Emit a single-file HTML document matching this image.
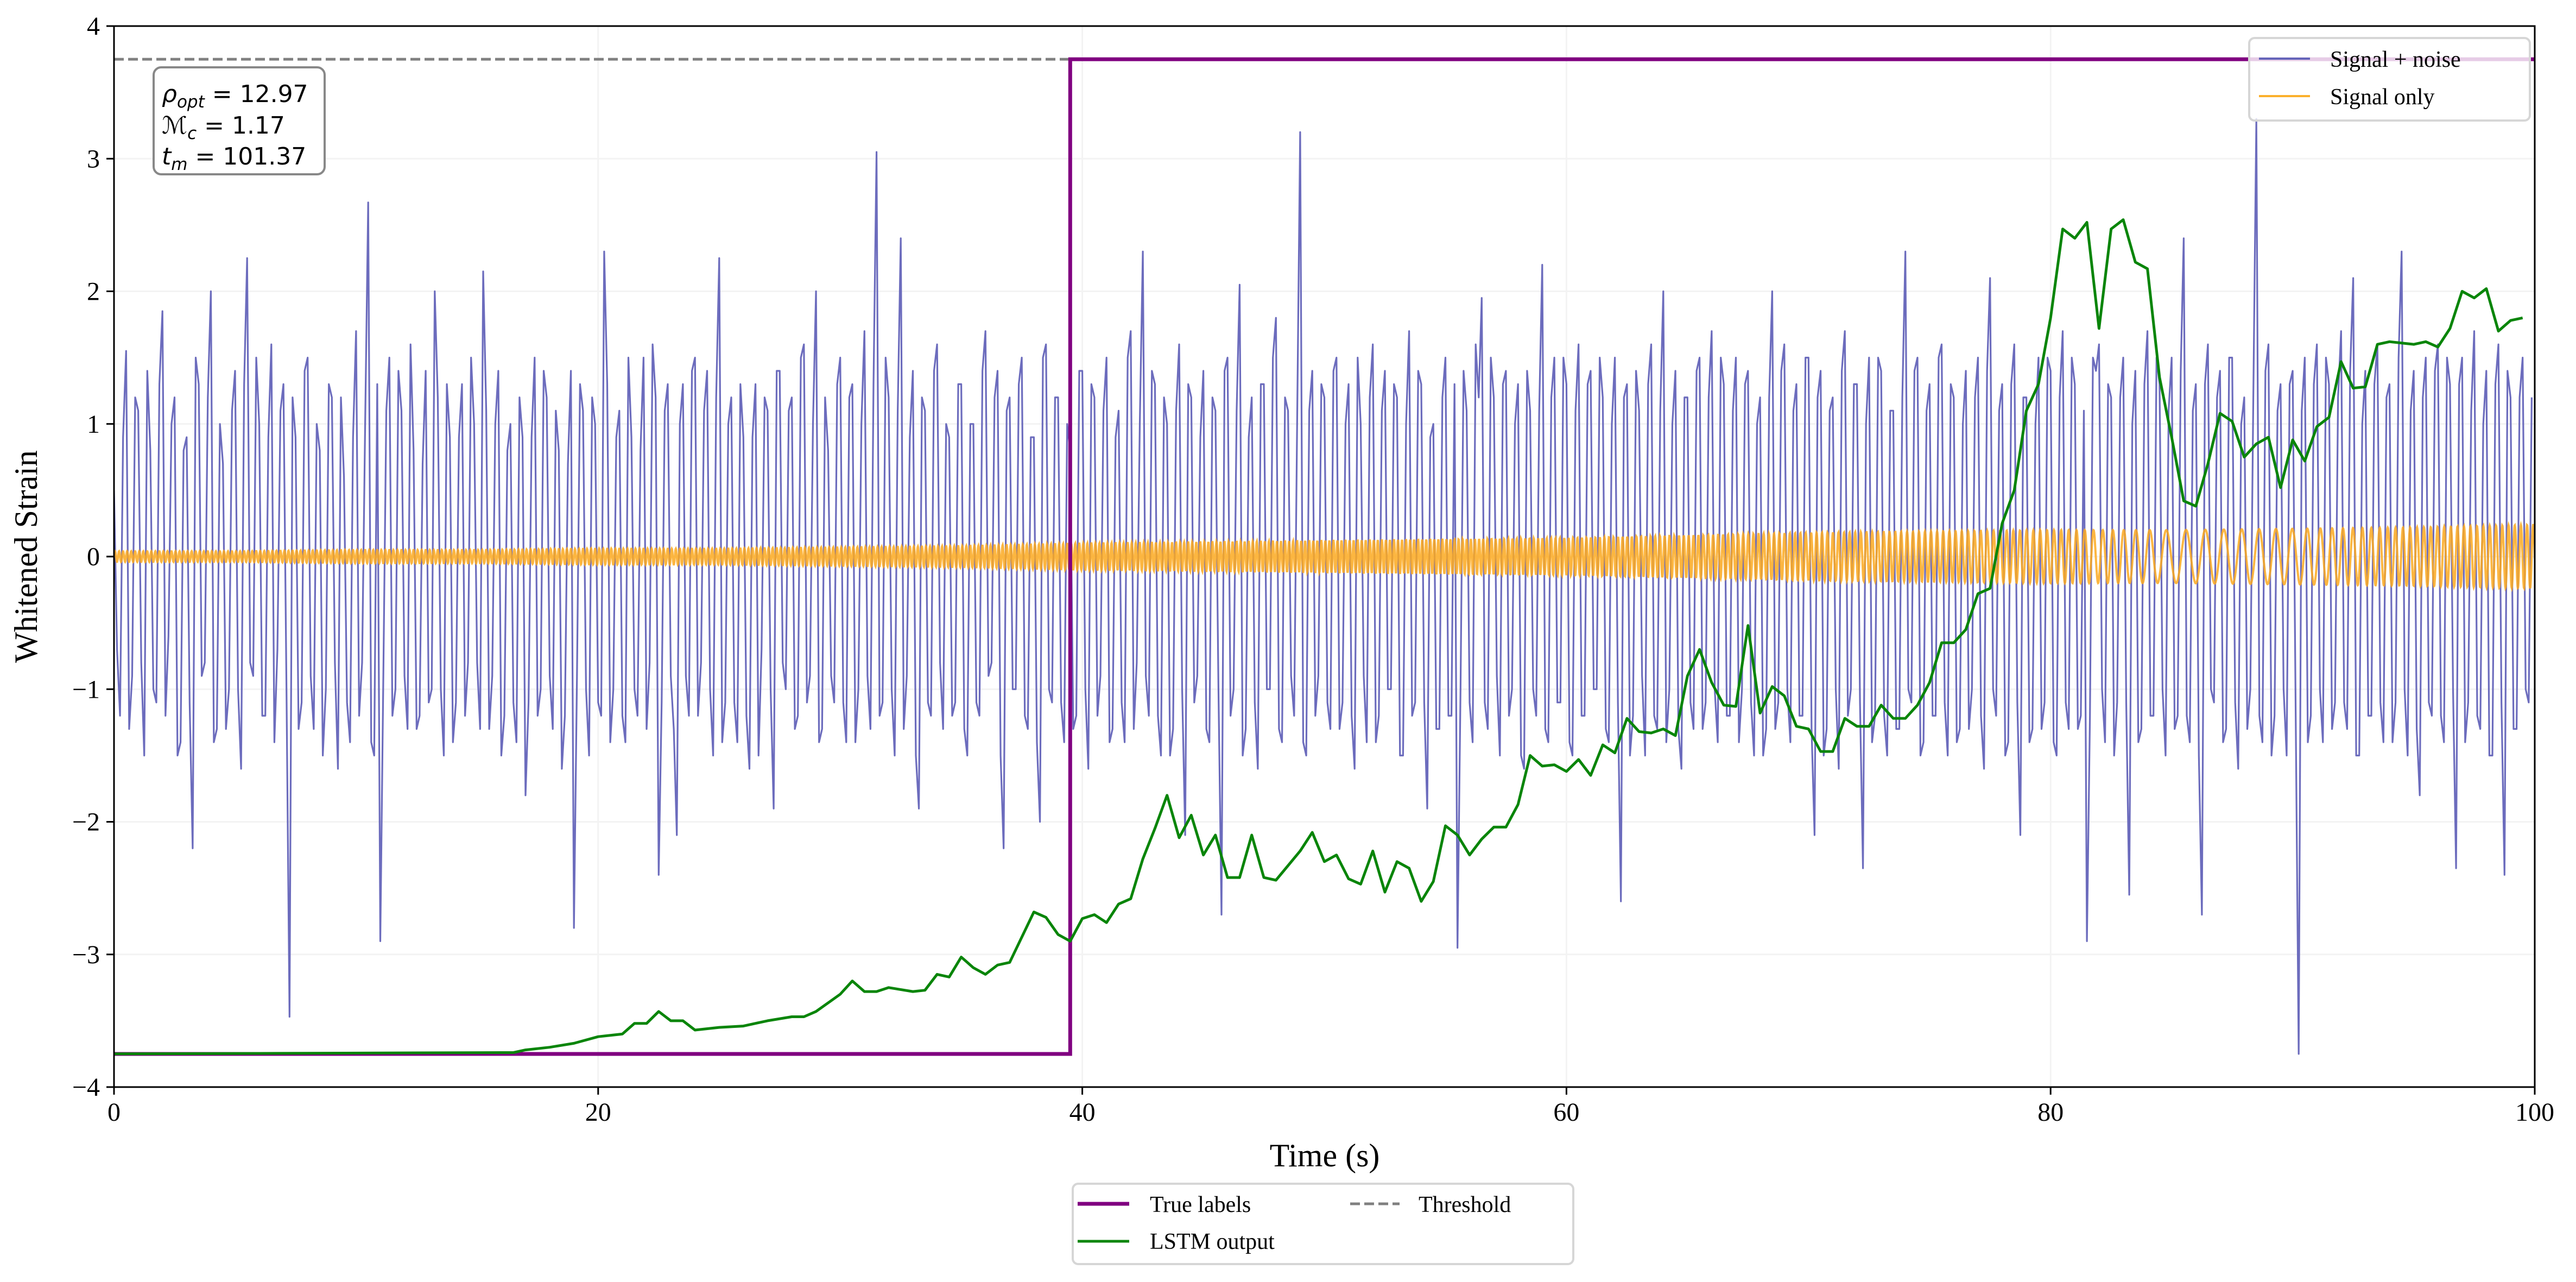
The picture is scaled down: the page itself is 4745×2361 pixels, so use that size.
<!DOCTYPE html>
<html><head><meta charset="utf-8"><style>
html,body{margin:0;padding:0;background:#fff}
svg{display:block}
text{font-family:"Liberation Serif",serif}
</style></head><body>
<svg id="chart" width="4745" height="2361" viewBox="0 0 4745 2361" xmlns="http://www.w3.org/2000/svg">
<rect x="0" y="0" width="4745" height="2361" fill="#fff"/>
<g id="grid"></g>
<g id="clip-series" clip-path="url(#plotclip)"></g>
<defs><clipPath id="plotclip"><rect x="210" y="48" width="4459" height="1954"/></clipPath></defs>
<rect x="210" y="48" width="4459" height="1954" fill="none" stroke="#000" stroke-width="3"/>
<g id="ticks"></g>
<text x="2440" y="2148" font-size="60" text-anchor="middle">Time (s)</text>
<text x="0" y="0" font-size="60" text-anchor="middle" transform="translate(68,1025) rotate(-90)">Whitened Strain</text>

<g>
<rect x="283" y="124" width="315" height="197" rx="14" fill="#fff" stroke="#888" stroke-width="4"/>
<text x="298" y="188" font-size="44" style="font-family:'DejaVu Sans',sans-serif"><tspan font-style="italic">ρ</tspan><tspan font-size="31" dy="10" font-style="italic">opt</tspan><tspan dy="-10"> = 12.97</tspan></text>
<text x="298" y="246" font-size="44" style="font-family:'DejaVu Sans',sans-serif"><tspan font-style="italic">ℳ</tspan><tspan font-size="31" dy="10" font-style="italic">c</tspan><tspan dy="-10"> = 1.17</tspan></text>
<text x="298" y="303" font-size="44" style="font-family:'DejaVu Sans',sans-serif"><tspan font-style="italic">t</tspan><tspan font-size="31" dy="10" font-style="italic">m</tspan><tspan dy="-10"> = 101.37</tspan></text>
</g>

<g>
<rect x="4143" y="70" width="517" height="152" rx="10" fill="#fff" fill-opacity="0.8" stroke="#d6d6d6" stroke-width="4"/>
<g>
<line x1="4161" y1="108" x2="4255" y2="108" stroke="#6464b9" stroke-width="4"/>
<text x="4292" y="123" font-size="42">Signal + noise</text></g>
<g>
<line x1="4161" y1="177" x2="4255" y2="177" stroke="#fbb02c" stroke-width="4"/>
<text x="4292" y="192" font-size="42">Signal only</text></g>
</g>

<g>
<rect x="1976" y="2180" width="922" height="148" rx="10" fill="#fff" stroke="#d6d6d6" stroke-width="4"/>
<g>
<line x1="1985" y1="2217" x2="2080" y2="2217" stroke="#800080" stroke-width="7"/>
<text x="2118" y="2232" font-size="42">True labels</text></g>
<g>
<line x1="1985" y1="2286" x2="2080" y2="2286" stroke="#098509" stroke-width="5"/>
<text x="2118" y="2300" font-size="42">LSTM output</text></g>
<g>
<line x1="2487" y1="2217" x2="2578" y2="2217" stroke="#808080" stroke-width="5" stroke-dasharray="18,8"/>
<text x="2613" y="2232" font-size="42">Threshold</text></g>
</g>
</svg>
<script>
// ---- data ----
const xTicks = [0, 20, 40, 60, 80, 100];
const yTicks = [-4, -3, -2, -1, 0, 1, 2, 3, 4];
const thresholdValue = 3.75;
const labelLow = -3.75;
const labelHigh = 3.75;
const labelSwitchTime = 39.5;

const lstmTimes = [0,16,16.5,17,18,19,20,21,21.5,22,22.5,23,23.5,24,25,26,27,28,28.5,29,30,30.5,31,31.5,32,33,33.5,34,34.5,35,35.5,36,36.5,37,38,38.5,39,39.5,40,40.5,41,41.5,42,42.5,43,43.5,44,44.5,45,45.5,46,46.5,47,47.5,48,48.5,49,49.5,50,50.5,51,51.5,52,52.5,53,53.5,54,54.5,55,55.5,56,56.5,57,57.5,58,58.5,59,59.5,60,60.5,61,61.5,62,62.5,63,63.5,64,64.5,65,65.5,66,66.5,67,67.5,68,68.5,69,69.5,70,70.5,71,71.5,72,72.5,73,73.5,74,74.5,75,75.5,76,76.5,77,77.5,78,78.5,79,79.5,80,80.5,81,81.5,82,82.5,83,83.5,84,84.5,85,85.5,86,86.5,87,87.5,88,88.5,89,89.5,90,90.5,91,91.5,92,92.5,93,93.5,94,95,95.5,96,96.5,97,97.5,98,98.5,99,99.5];
const lstmValues = [-3.75,-3.74,-3.74,-3.72,-3.7,-3.67,-3.62,-3.6,-3.52,-3.52,-3.43,-3.5,-3.5,-3.57,-3.55,-3.54,-3.5,-3.47,-3.47,-3.43,-3.3,-3.2,-3.28,-3.28,-3.25,-3.28,-3.27,-3.15,-3.17,-3.02,-3.1,-3.15,-3.08,-3.06,-2.68,-2.72,-2.85,-2.9,-2.73,-2.7,-2.76,-2.62,-2.58,-2.28,-2.05,-1.8,-2.12,-1.95,-2.25,-2.1,-2.42,-2.42,-2.1,-2.42,-2.44,-2.33,-2.22,-2.08,-2.3,-2.25,-2.43,-2.47,-2.22,-2.53,-2.3,-2.35,-2.6,-2.45,-2.03,-2.1,-2.25,-2.13,-2.04,-2.04,-1.87,-1.5,-1.58,-1.57,-1.62,-1.53,-1.65,-1.42,-1.48,-1.22,-1.32,-1.33,-1.3,-1.35,-0.9,-0.7,-0.95,-1.12,-1.13,-0.52,-1.18,-0.98,-1.05,-1.28,-1.3,-1.47,-1.47,-1.22,-1.28,-1.28,-1.12,-1.22,-1.22,-1.12,-0.95,-0.65,-0.65,-0.55,-0.28,-0.24,0.25,0.5,1.1,1.3,1.8,2.47,2.4,2.52,1.72,2.47,2.54,2.22,2.17,1.35,0.9,0.42,0.38,0.7,1.08,1.02,0.75,0.85,0.9,0.52,0.88,0.72,0.98,1.05,1.47,1.27,1.28,1.6,1.62,1.6,1.62,1.58,1.72,2.0,1.95,2.02,1.7,1.78,1.8];

// signal-only envelope and oscillation rate, every 5 s from 0 to 100
const signalEnvTimes = [0,5,10,15,20,25,30,35,40,45,50,55,60,65,70,75,80,85,90,95,100];
const signalAmplitude = [0.04,0.04,0.05,0.05,0.06,0.06,0.07,0.08,0.1,0.11,0.12,0.13,0.14,0.16,0.18,0.19,0.2,0.2,0.21,0.22,0.24];
const signalCyclesPerSec = [6,6,6,6,6,6,6,6,6,6,6,6,5.5,5,4.5,4,3.5,1.2,1.5,3.5,4];

const noiseValues = [
0.5,-1.2,1.55,-0.9,1.1,-1.5,0.8,-1.1,1.85,-0.6,1.2,-1.4,0.9,-2.2,1.3,-0.8,2.0,-1.3,0.7,-1.0,
1.4,-1.6,2.25,-0.9,1.0,-1.2,1.6,-0.7,1.3,-3.47,0.9,-1.1,1.5,-1.3,0.8,-1.0,1.2,-1.6,0.6,-1.4,
1.7,-0.8,2.67,-1.5,-2.9,1.1,-1.2,1.4,-0.9,1.6,-1.3,0.7,-1.1,2.0,-1.0,1.3,-1.4,0.9,-1.2,1.5,
-0.8,2.15,-1.3,1.0,-1.5,0.8,-1.1,1.2,-1.8,0.9,-1.2,1.4,-0.9,1.1,-1.6,0.7,-2.8,1.3,-1.0,1.2,
-1.1,2.3,-1.4,0.9,-1.2,1.5,-1.0,0.8,-1.3,1.6,-2.4,1.1,-0.9,-2.1,1.3,-1.2,1.5,-0.8,1.4,-1.5,
2.25,-1.1,1.2,-1.4,0.9,-1.6,1.3,-0.7,1.1,-1.9,1.4,-1.0,1.2,-1.2,1.6,-0.9,2.0,-1.3,0.8,-1.1,
1.5,-1.4,1.3,-1.0,1.7,-1.3,3.05,-1.1,1.2,-1.5,2.4,-0.9,1.4,-1.9,1.1,-1.2,1.6,-1.3,0.9,-1.1,
1.3,-1.5,1.0,-1.2,1.7,-0.8,1.4,-2.2,1.2,-1.0,1.5,-1.3,0.9,-2.0,1.6,-1.1,1.2,-1.4,0.8,-1.2,
1.4,-1.6,1.2,-0.9,1.5,-1.3,1.1,-1.4,1.7,-0.8,2.3,-1.2,1.3,-1.5,1.0,-1.3,1.6,-2.1,1.2,-0.9,
1.4,-1.4,1.1,-2.7,1.5,-1.0,2.05,-1.3,1.2,-1.6,1.3,-1.0,1.8,-1.4,1.1,-1.2,3.2,-1.5,1.4,-0.9,
1.2,-1.3,1.5,-1.1,1.3,-1.6,1.0,-1.4,1.6,-1.2,1.4,-1.0,1.2,-1.5,1.7,-1.1,1.3,-1.9,1.0,-1.3,
1.5,-1.2,-2.95,1.4,-1.1,1.6,1.95,-1.3,1.2,-1.5,1.4,-1.0,1.3,-1.6,1.1,-1.2,2.2,-1.4,1.5,-1.1,
1.3,-1.5,1.6,-1.2,1.4,-1.0,1.2,-1.4,1.5,-2.6,1.3,-1.2,1.1,-1.5,1.6,-1.3,2.0,-1.0,1.4,-1.6,
1.2,-1.3,1.5,-1.1,1.7,-1.4,1.3,-1.2,1.5,-1.0,1.4,-1.5,1.2,-1.3,2.0,-1.1,1.6,-1.4,1.3,-1.2,
1.5,-2.1,1.4,-1.3,1.2,-1.6,1.7,-1.0,1.3,-2.35,1.5,-1.2,1.4,-1.5,1.1,-1.3,2.3,-1.1,1.5,-1.4,
1.3,-1.2,1.6,-1.5,1.2,-1.3,1.4,-1.0,1.5,-1.6,2.1,-1.2,1.3,-1.4,1.6,-2.1,1.2,-1.3,1.5,-1.1,
1.4,-1.5,1.7,-1.3,1.3,-1.2,-2.9,1.5,1.6,-1.4,1.2,-1.1,1.5,-2.55,1.4,-1.3,1.7,-1.2,1.3,-1.5,
1.5,-1.2,2.4,-1.4,1.3,-2.7,1.6,-1.1,1.4,-1.3,1.5,-1.6,1.2,-1.0,3.3,-1.4,1.6,-1.2,1.3,-1.5,
1.4,-3.75,1.5,-1.2,1.6,-1.4,1.3,-1.1,1.7,-1.3,2.1,-1.5,1.4,-1.2,1.6,-1.4,1.3,-1.1,2.3,-1.5,
1.4,-1.8,1.5,-1.2,1.6,-1.4,1.3,-2.35,1.5,-1.1,1.7,-1.3,1.4,-1.5,1.6,-2.4,1.2,-1.3,1.5,-1.1
];
// extra samples between those above (offset by half a step)
const noiseValuesB = [
-0.7,0.9,-1.3,1.2,-0.8,1.4,-1.0,1.3,-1.2,1.0,-1.5,0.8,-1.1,1.5,-0.9,1.2,-1.4,1.0,-1.3,1.1,
-1.0,1.3,-0.8,1.5,-1.2,0.9,-1.4,1.1,-1.0,1.2,-1.3,1.4,-0.9,1.0,-1.5,1.3,-0.8,1.2,-1.1,0.9,
-1.2,1.0,-1.4,1.3,-0.9,1.5,-1.0,1.1,-1.3,0.8,-1.2,1.4,-1.0,1.2,-1.5,0.9,-1.1,1.3,-0.8,1.0,
-1.3,1.1,-0.9,1.4,-1.2,1.0,-1.4,0.9,-1.1,1.5,-1.0,1.2,-1.3,0.8,-1.2,1.4,-0.9,1.1,-1.5,1.0,
-1.2,1.3,-1.0,1.1,-1.4,0.9,-1.2,1.5,-0.8,1.2,-1.1,1.3,-1.3,1.0,-0.9,1.4,-1.2,1.1,-1.0,1.2,
-1.4,1.0,-1.1,1.3,-1.2,0.9,-1.5,1.2,-1.0,1.4,-0.8,1.1,-1.3,1.5,-1.1,1.0,-1.4,1.2,-0.9,1.3,
-1.1,1.2,-1.4,1.0,-0.9,1.3,-1.2,1.5,-1.0,1.1,-1.3,0.9,-1.5,1.2,-1.1,1.4,-0.8,1.0,-1.2,1.3,
-1.3,1.0,-1.1,1.4,-0.9,1.2,-1.5,1.1,-1.0,1.3,-1.2,0.9,-1.4,1.5,-1.0,1.2,-1.1,1.0,-1.3,1.4,
-1.0,1.3,-1.2,1.1,-1.4,0.9,-1.1,1.5,-1.3,1.0,-0.9,1.4,-1.2,1.2,-1.5,1.1,-1.0,1.3,-1.1,0.9,
-1.3,1.2,-1.0,1.4,-1.2,1.1,-1.5,0.9,-1.1,1.3,-1.0,1.5,-1.3,1.2,-0.9,1.0,-1.4,1.1,-1.2,1.3,
-1.1,1.4,-1.3,1.0,-1.2,1.5,-0.9,1.2,-1.4,1.1,-1.0,1.3,-1.5,1.0,-1.2,1.4,-1.1,0.9,-1.3,1.2,
-1.2,1.3,-1.0,1.1,-1.4,1.2,-1.1,1.5,-0.9,1.3,-1.2,1.0,-1.5,1.4,-1.0,1.1,-1.3,1.2,-1.1,1.5,
-1.4,1.1,-1.2,1.3,-1.0,1.5,-1.3,1.0,-1.1,1.2,-1.5,1.4,-0.9,1.3,-1.2,1.1,-1.4,1.0,-1.3,1.2,
-1.1,1.4,-1.3,1.2,-1.0,1.5,-1.2,1.1,-1.4,1.3,-1.1,1.0,-1.5,1.2,-1.3,1.4,-1.0,1.1,-1.2,1.5,
-1.3,1.2,-1.5,1.1,-1.0,1.4,-1.2,1.3,-1.1,1.0,-1.4,1.5,-1.2,1.1,-1.3,1.2,-1.0,1.4,-1.5,1.1,
-1.2,1.5,-1.1,1.3,-1.4,1.0,-1.3,1.2,-1.2,1.4,-1.0,1.1,-1.5,1.3,-1.1,1.2,-1.4,1.0,-1.3,1.5,
-1.4,1.2,-1.1,1.5,-1.3,1.1,-1.2,1.4,-1.0,1.3,-1.5,1.2,-1.1,1.0,-1.4,1.3,-1.2,1.5,-1.0,1.1,
-1.3,1.4,-1.2,1.1,-1.5,1.3,-1.0,1.2,-1.4,1.5,-1.1,1.0,-1.3,1.2,-1.2,1.4,-1.5,1.1,-1.0,1.3,
-1.2,1.1,-1.4,1.3,-1.0,1.5,-1.3,1.2,-1.1,1.4,-1.5,1.0,-1.2,1.3,-1.1,1.2,-1.4,1.5,-1.0,1.1,
-1.3,1.2,-1.1,1.4,-1.2,1.5,-1.0,1.3,-1.4,1.1,-1.2,1.0,-1.5,1.3,-1.1,1.4,-1.3,1.2,-1.0,1.2
];
const noiseStep = 0.25;

// ---- axes ----
const X0 = 210, X1 = 4669, Y0 = 2002, Y1 = 48;
const xMin = 0, xMax = 100, yMin = -4, yMax = 4;
function xs(t){ return X0 + (t - xMin) / (xMax - xMin) * (X1 - X0); }
function ys(v){ return Y0 - (v - yMin) / (yMax - yMin) * (Y0 - Y1); }
function interp(ts, vs, t){
  if (t <= ts[0]) return vs[0];
  for (let i = 1; i < ts.length; i++) if (t <= ts[i]) { const f = (t - ts[i-1]) / (ts[i] - ts[i-1]); return vs[i-1] + f * (vs[i] - vs[i-1]); }
  return vs[vs.length-1];
}
const NS = 'http://www.w3.org/2000/svg';
function mk(tag, attrs, parent){ const e = document.createElementNS(NS, tag); for (const k in attrs) e.setAttribute(k, attrs[k]); parent.appendChild(e); return e; }

const grid = document.getElementById('grid');
const ticks = document.getElementById('ticks');
const series = document.getElementById('clip-series');

yTicks.forEach(v => {
  const gl = mk('line', {x1: X0, x2: X1, y1: ys(v), y2: ys(v), stroke: '#f3f3f3', 'stroke-width': 3}, grid);
  
  
  const tk = mk('line', {x1: X0 - 14, x2: X0, y1: ys(v), y2: ys(v), stroke: '#000', 'stroke-width': 3}, ticks);
  
  
  const tl = mk('text', {x: X0 - 26, y: ys(v) + 16, 'font-size': 48, 'text-anchor': 'end'}, ticks);
  tl.textContent = v < 0 ? '\u2212' + Math.abs(v) : String(v);
  
  
});
xTicks.forEach(t => {
  const gl = mk('line', {x1: xs(t), x2: xs(t), y1: Y1, y2: Y0, stroke: '#f3f3f3', 'stroke-width': 3}, grid);
  
  
  const tk = mk('line', {x1: xs(t), x2: xs(t), y1: Y0, y2: Y0 + 14, stroke: '#000', 'stroke-width': 3}, ticks);
  
  
  const tl = mk('text', {x: xs(t), y: Y0 + 62, 'font-size': 48, 'text-anchor': 'middle'}, ticks);
  tl.textContent = String(t);
  
  
});

// signal + noise (interleave both sample sets)
const noisePts = [];
noiseValues.forEach((v, i) => { noisePts.push([i * noiseStep, v]); if (i < noiseValuesB.length) noisePts.push([i * noiseStep + noiseStep / 2, noiseValuesB[i]]); });
let d = '';
noisePts.forEach((p, i) => { d += (i ? 'L' : 'M') + xs(p[0]).toFixed(1) + ',' + ys(p[1]).toFixed(1); });
const noisePath = mk('path', {d: d, fill: 'none', stroke: '#6464b9', 'stroke-width': 3.2, 'stroke-opacity': 0.95, 'stroke-linejoin': 'round'}, series);



// signal only
let phase = 0, ds = '';
const dt = 0.01;
for (let t = 0; t <= 100 + 1e-9; t += dt) {
  const a = interp(signalEnvTimes, signalAmplitude, t);
  const f = interp(signalEnvTimes, signalCyclesPerSec, t);
  const v = a * Math.sin(phase);
  ds += (t ? 'L' : 'M') + xs(t).toFixed(1) + ',' + ys(v).toFixed(1);
  phase += 2 * Math.PI * f * dt;
}
const sigPath = mk('path', {d: ds, fill: 'none', stroke: '#fba920', 'stroke-width': 4, 'stroke-opacity': 0.85}, series);



// threshold
const th = mk('line', {x1: X0, x2: X1, y1: ys(thresholdValue), y2: ys(thresholdValue), stroke: '#808080', 'stroke-width': 5, 'stroke-dasharray': '18,8'}, series);



// true labels
const tlPath = mk('path', {d: 'M' + xs(0) + ',' + ys(labelLow) + 'L' + xs(labelSwitchTime) + ',' + ys(labelLow) + 'L' + xs(labelSwitchTime) + ',' + ys(labelHigh) + 'L' + xs(100) + ',' + ys(labelHigh), fill: 'none', stroke: '#800080', 'stroke-width': 7}, series);



// LSTM output
let dl = '';
lstmTimes.forEach((t, i) => { dl += (i ? 'L' : 'M') + xs(t).toFixed(1) + ',' + ys(lstmValues[i]).toFixed(1); });
const lp = mk('path', {d: dl, fill: 'none', stroke: '#098509', 'stroke-width': 5, 'stroke-linejoin': 'round'}, series);


</script>
</body></html>
